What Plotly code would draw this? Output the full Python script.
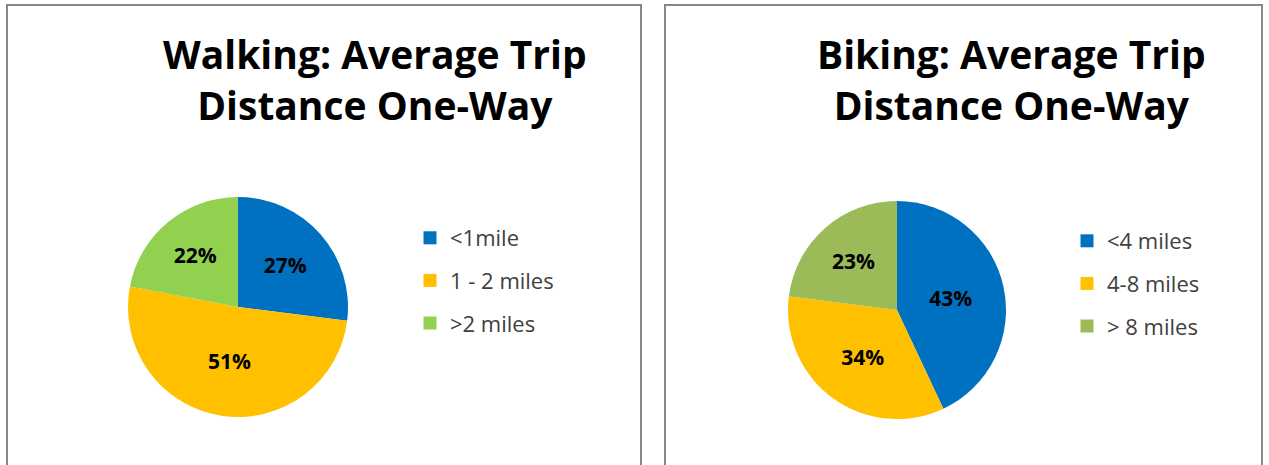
import plotly.graph_objects as go

walk_labels = ["<1mile", "1 - 2 miles", ">2 miles"]
walk_values = [27, 51, 22]
walk_colors = ["#0070C0", "#FFC000", "#92D050"]
walk_title = "Walking: Average Trip<br>Distance One-Way"

bike_labels = ["<4 miles", "4-8 miles", "> 8 miles"]
bike_values = [43, 34, 23]
bike_colors = ["#0070C0", "#FFC000", "#9BBB59"]
bike_title = "Biking: Average Trip<br>Distance One-Way"

W, H = 1269, 465
FONT = "Open Sans"

fig = go.Figure()

def add_pie(labels, values, colors, cx, cy, r, legend):
    fig.add_trace(go.Pie(
        labels=labels, values=values, sort=False, direction="clockwise", rotation=0,
        marker=dict(colors=colors, line=dict(width=0)),
        texttemplate="%{value}%", textposition="inside", insidetextorientation="horizontal",
        textfont=dict(family=FONT, size=21, color="black", weight="bold"),
        domain=dict(x=[(cx - r) / W, (cx + r) / W], y=[(H - cy - r) / H, (H - cy + r) / H]),
        showlegend=False, hoverinfo="label+percent",
    ))
    for lab, col in zip(labels, colors):
        fig.add_trace(go.Scatter(
            x=[None], y=[None], mode="markers", name=lab, legend=legend, legendgroup=legend + lab,
            marker=dict(symbol="square", size=13, color=col, line=dict(width=0)),
        ))

add_pie(walk_labels, walk_values, walk_colors, 238, 307, 110, "legend")
add_pie(bike_labels, bike_values, bike_colors, 897, 310, 109, "legend2")

legend_common = dict(font=dict(family=FONT, size=22, color="#404040"), tracegroupgap=11,
                     bgcolor="rgba(0,0,0,0)", xanchor="left", yanchor="top", itemclick=False)

title_font = dict(family=FONT, size=39, color="black", weight="bold")
annotations = [
    dict(text=t, x=cx / W, y=(H - 79) / H, xref="paper", yref="paper", showarrow=False,
         xanchor="center", yanchor="middle", align="center", font=title_font)
    for t, cx in ((walk_title, 375), (bike_title, 1011))
]

fig.update_layout(
    width=W, height=H, margin=dict(l=0, r=0, t=0, b=0),
    paper_bgcolor="white", plot_bgcolor="white",
    xaxis=dict(visible=False), yaxis=dict(visible=False),
    legend=dict(x=410 / W, y=(H - 217) / H, **legend_common),
    legend2=dict(x=1067 / W, y=(H - 220) / H, **legend_common),
    shapes=[
        dict(type="rect", xref="paper", yref="paper", x0=7 / W, x1=641 / W, y0=-0.05, y1=(H - 5) / H,
             line=dict(color="#878787", width=2)),
        dict(type="rect", xref="paper", yref="paper", x0=665 / W, x1=1262 / W, y0=-0.05, y1=(H - 5) / H,
             line=dict(color="#878787", width=2)),
    ],
    annotations=annotations,
)

fig.write_html("out.html", config={"displayModeBar": False},
               post_script="document.body.style.margin='0';")
